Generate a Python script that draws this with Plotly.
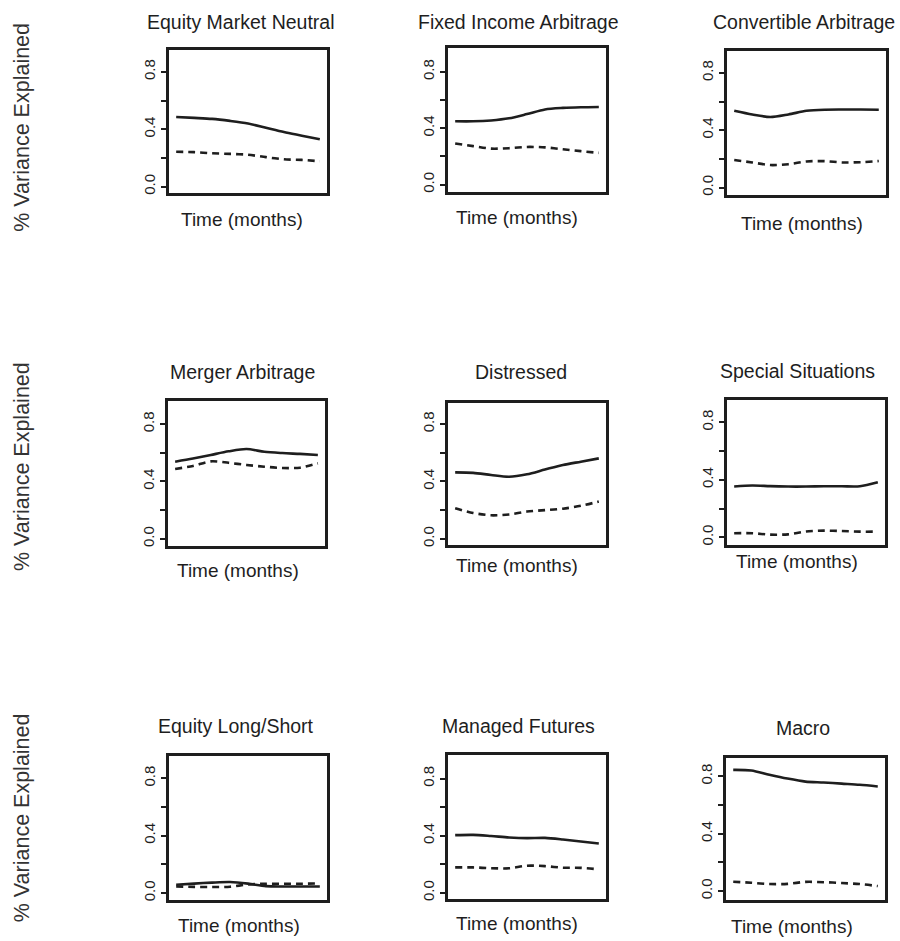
import plotly.graph_objects as go

W, H = 900, 941

months = [1, 2, 3, 4, 5, 6, 7, 8, 9]

titles = ["Equity Market Neutral", "Fixed Income Arbitrage", "Convertible Arbitrage",
          "Merger Arbitrage", "Distressed", "Special Situations",
          "Equity Long/Short", "Managed Futures", "Macro"]

emn_solid = [0.485, 0.479, 0.472, 0.458, 0.440, 0.410, 0.380, 0.355, 0.330]
emn_dashed = [0.243, 0.240, 0.232, 0.228, 0.222, 0.205, 0.190, 0.186, 0.176]
fia_solid = [0.449, 0.449, 0.455, 0.470, 0.500, 0.533, 0.544, 0.549, 0.551]
fia_dashed = [0.291, 0.273, 0.255, 0.258, 0.267, 0.264, 0.250, 0.237, 0.225]
cva_solid = [0.536, 0.510, 0.492, 0.510, 0.535, 0.543, 0.544, 0.544, 0.543]
cva_dashed = [0.192, 0.175, 0.157, 0.163, 0.182, 0.184, 0.175, 0.177, 0.185]
mga_solid = [0.538, 0.560, 0.585, 0.610, 0.626, 0.607, 0.598, 0.592, 0.585]
mga_dashed = [0.487, 0.508, 0.540, 0.530, 0.515, 0.503, 0.494, 0.496, 0.527]
dst_solid = [0.463, 0.460, 0.445, 0.433, 0.450, 0.483, 0.515, 0.538, 0.561]
dst_dashed = [0.213, 0.180, 0.164, 0.170, 0.190, 0.200, 0.210, 0.230, 0.260]
sps_solid = [0.353, 0.360, 0.356, 0.353, 0.353, 0.355, 0.355, 0.355, 0.383]
sps_dashed = [0.028, 0.028, 0.018, 0.020, 0.040, 0.046, 0.043, 0.039, 0.039]
els_solid = [0.058, 0.066, 0.073, 0.077, 0.066, 0.048, 0.046, 0.046, 0.046]
els_dashed = [0.046, 0.043, 0.042, 0.044, 0.060, 0.065, 0.065, 0.065, 0.067]
mfu_solid = [0.404, 0.406, 0.398, 0.388, 0.383, 0.385, 0.374, 0.360, 0.346]
mfu_dashed = [0.178, 0.178, 0.172, 0.172, 0.190, 0.187, 0.176, 0.175, 0.164]
mac_solid = [0.846, 0.842, 0.812, 0.785, 0.764, 0.758, 0.750, 0.742, 0.730]
mac_dashed = [0.065, 0.058, 0.049, 0.050, 0.064, 0.062, 0.056, 0.049, 0.035]

solid_series = [emn_solid, fia_solid, cva_solid, mga_solid, dst_solid, sps_solid,
                els_solid, mfu_solid, mac_solid]
dashed_series = [emn_dashed, fia_dashed, cva_dashed, mga_dashed, dst_dashed, sps_dashed,
                 els_dashed, mfu_dashed, mac_dashed]

ytick_vals = [0.0, 0.2, 0.4, 0.6, 0.8]
ytick_text = ["0.0", "", "0.4", "", "0.8"]
y_label = "% Variance Explained"
x_label = "Time (months)"

# layout (pixel boxes: left, right, top, bottom)
boxes = [(169, 327, 50, 193), (448, 606, 48, 192), (727, 886, 51, 195),
         (168, 325, 402, 547), (448, 606, 404, 546), (727, 885, 401, 546),
         (169, 327, 758, 902), (448, 606, 757, 901), (726, 885, 760, 902)]
yranges = [(-0.042, 0.953), (-0.05, 0.97), (-0.049, 0.953),
           (-0.049, 0.96), (-0.042, 0.946), (-0.053, 0.955),
           (-0.049, 0.953), (-0.044, 0.963), (-0.063, 0.926)]
title_pos = [(241, 22), (518, 22), (804, 22),
             (242, 373), (521, 373), (797, 372),
             (236, 728), (518, 728), (803, 730)]
xlab_pos = [(242, 220), (517, 218), (802, 224),
            (238, 572), (517, 567), (797, 563),
            (239, 927), (517, 925), (792, 928)]
ylab_pos = [(22, 128), (22, 468), (22, 820)]

FONT = "Liberation Sans, Arial, Helvetica, sans-serif"
INK = "#1e1e1e"

fig = go.Figure()
annotations = []
for i in range(9):
    n = "" if i == 0 else str(i + 1)
    xa, ya = "x" + n, "y" + n
    fig.add_trace(go.Scatter(x=months, y=solid_series[i], mode="lines", name="solid",
                             line=dict(color=INK, width=2.6, shape="spline", smoothing=0.8),
                             xaxis=xa, yaxis=ya, showlegend=False, hoverinfo="skip"))
    fig.add_trace(go.Scatter(x=months, y=dashed_series[i], mode="lines", name="dashed",
                             line=dict(color=INK, width=2.6, dash="7px,5px", shape="spline", smoothing=0.8),
                             xaxis=xa, yaxis=ya, showlegend=False, hoverinfo="skip"))
    l, r, t, b = boxes[i]
    fig.layout["xaxis" + n] = dict(domain=[l / W, r / W], range=[0.6, 9.4],
                                   showticklabels=False, ticks="", showgrid=False, zeroline=False,
                                   showline=True, linecolor=INK, linewidth=2.6, mirror=True,
                                   anchor=ya, fixedrange=True)
    fig.layout["yaxis" + n] = dict(domain=[1 - b / H, 1 - t / H], range=list(yranges[i]),
                                   tickvals=ytick_vals, ticktext=ytick_text, tickangle=-90,
                                   ticks="outside", ticklen=5, tickwidth=2, tickcolor=INK,
                                   tickfont=dict(family=FONT, size=15, color=INK),
                                   showgrid=False, zeroline=False,
                                   showline=True, linecolor=INK, linewidth=2.6, mirror=True,
                                   anchor=xa, fixedrange=True)
    tx, ty = title_pos[i]
    annotations.append(dict(text=titles[i], x=tx / W, y=1 - ty / H, xref="paper", yref="paper",
                            xanchor="center", yanchor="middle", showarrow=False,
                            font=dict(family=FONT, size=19.5, color=INK)))
    lx, ly = xlab_pos[i]
    annotations.append(dict(text=x_label, x=lx / W, y=1 - ly / H, xref="paper", yref="paper",
                            xanchor="center", yanchor="middle", showarrow=False,
                            font=dict(family=FONT, size=19, color=INK)))

for (px, py) in ylab_pos:
    annotations.append(dict(text=y_label, x=px / W, y=1 - py / H, xref="paper", yref="paper",
                            xanchor="center", yanchor="middle", showarrow=False, textangle=-90,
                            font=dict(family=FONT, size=21.5, color="#333333")))

fig.update_layout(width=W, height=H, margin=dict(l=0, r=0, t=0, b=0),
                  paper_bgcolor="white", plot_bgcolor="white",
                  annotations=annotations, showlegend=False)

fig.write_html("out.html", config={"displayModeBar": False},
               post_script="document.body.style.margin='0';document.body.style.overflow='hidden';")
